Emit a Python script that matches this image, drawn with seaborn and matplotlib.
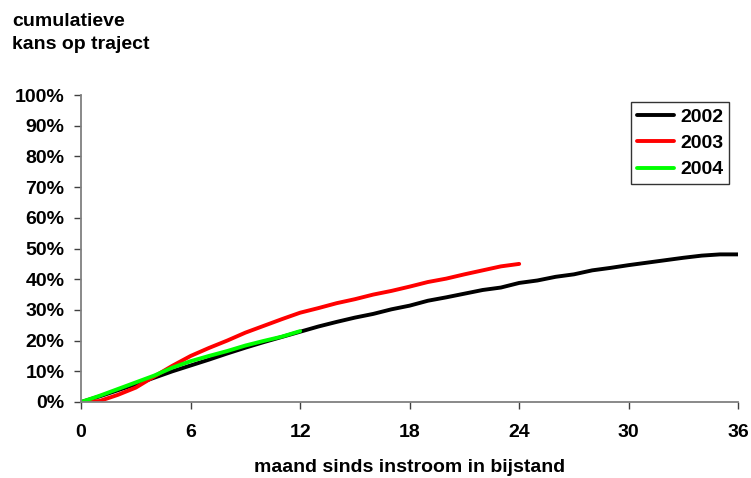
import numpy as np
import pandas as pd
import matplotlib
matplotlib.use("Agg")
import matplotlib.pyplot as plt
import seaborn as sns
from matplotlib.ticker import PercentFormatter

# cumulatieve kans op traject (%) per maand sinds instroom
jaar_2002 = [0, 1.8, 3.8, 5.8, 7.9, 10.0, 11.9, 13.8, 15.8, 17.7, 19.5, 21.2, 22.9,
             24.6, 26.1, 27.5, 28.7, 30.2, 31.4, 33.0, 34.1, 35.3, 36.5, 37.3, 38.8,
             39.6, 40.8, 41.6, 42.9, 43.7, 44.6, 45.4, 46.2, 47.0, 47.7, 48.1, 48.1]
jaar_2003 = [0, 0.3, 2.3, 4.7, 8.3, 11.8, 15.0, 17.6, 20.0, 22.6, 24.8, 27.0, 29.1,
             30.6, 32.2, 33.5, 35.0, 36.2, 37.6, 39.1, 40.2, 41.6, 42.9, 44.2, 45.0]
jaar_2004 = [0, 2.0, 4.2, 6.4, 8.6, 11.2, 13.3, 15.0, 16.6, 18.4, 19.9, 21.3, 23.1]

reeksen = {"2002": jaar_2002, "2003": jaar_2003, "2004": jaar_2004}
kleuren = {"2002": "#000000", "2003": "#ff0000", "2004": "#00ff00"}

rows = []
for jaar, waarden in reeksen.items():
    for maand, v in enumerate(waarden):
        rows.append({"maand": maand, "kans": v, "jaar": jaar})
df = pd.DataFrame(rows)

sns.set_style("white")
plt.rcParams["font.family"] = ["Liberation Sans", "DejaVu Sans"]
plt.rcParams["font.weight"] = "bold"
plt.rcParams["text.color"] = "black"
plt.rcParams["axes.labelcolor"] = "black"
plt.rcParams["xtick.color"] = "black"
plt.rcParams["ytick.color"] = "black"

fs = 14

fig = plt.figure(figsize=(7.51, 4.78), dpi=100)
ax = fig.add_axes([0.108, 0.159, 0.875, 0.642])

sns.lineplot(data=df, x="maand", y="kans", hue="jaar", palette=kleuren,
             linewidth=2.8, ax=ax, legend=True)

ax.set_xlim(0, 36)
ax.set_ylim(0, 100)
ax.set_xticks(range(0, 37, 6))
ax.set_yticks(range(0, 101, 10))
ax.yaxis.set_major_formatter(PercentFormatter(decimals=0))

for side in ["top", "right"]:
    ax.spines[side].set_visible(False)
for side in ["left", "bottom"]:
    ax.spines[side].set_color("#808080")
    ax.spines[side].set_linewidth(1.3)

ax.tick_params(axis="both", which="major", direction="out", length=5, width=1,
               color="#404040", labelsize=fs, left=True, bottom=True)
ax.tick_params(axis="x", pad=11)
ax.tick_params(axis="y", pad=7)
for lab in ax.get_xticklabels() + ax.get_yticklabels():
    lab.set_fontweight("bold")

ax.set_xlabel("maand sinds instroom in bijstand", fontsize=fs, fontweight="bold",
              labelpad=13)
ax.set_ylabel("")

fig.text(0.016, 0.972, "cumulatieve\nkans op traject", ha="left", va="top",
         fontsize=fs, fontweight="bold", linespacing=1.4)

leg = ax.legend(loc="upper right", bbox_to_anchor=(0.986, 0.977), frameon=True,
                fancybox=False, edgecolor="black", fontsize=fs,
                handlelength=1.9, handletextpad=0.3, borderpad=0.3,
                labelspacing=0.45, borderaxespad=0)
leg.get_frame().set_linewidth(1.0)
for t in leg.get_texts():
    t.set_fontweight("bold")
for h in leg.get_lines():
    h.set_linewidth(2.8)

fig.savefig("out.png", dpi=100)
